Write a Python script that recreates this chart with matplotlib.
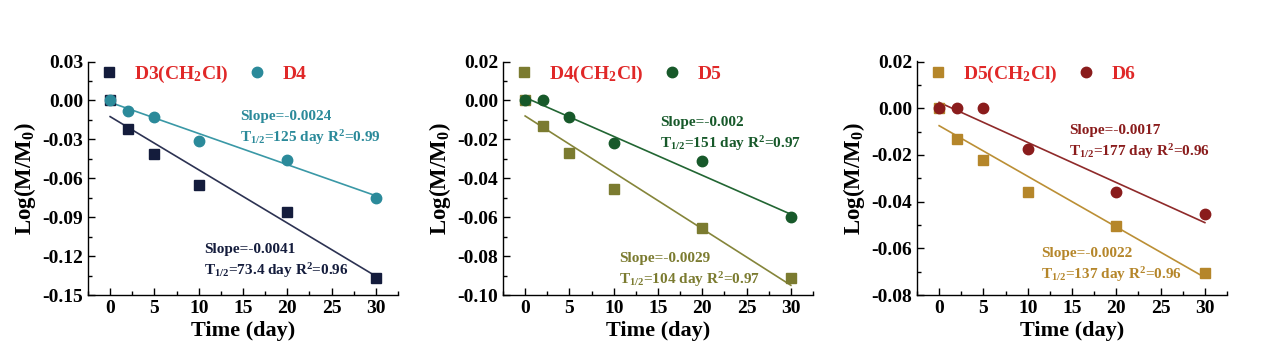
import matplotlib
matplotlib.use("Agg")
import matplotlib.pyplot as plt
from matplotlib.ticker import MultipleLocator, AutoMinorLocator, FuncFormatter

plt.rcParams['font.family'] = ['Liberation Serif', 'DejaVu Serif']
plt.rcParams['font.weight'] = 'bold'
plt.rcParams['mathtext.fontset'] = 'custom'
plt.rcParams['mathtext.rm'] = 'Liberation Serif:bold'
plt.rcParams['mathtext.bf'] = 'Liberation Serif:bold'
plt.rcParams['mathtext.default'] = 'rm'
plt.rcParams['axes.unicode_minus'] = False

# time points (day)
days = [0, 2, 5, 10, 20, 30]

# panel 1
d3cl = [0.0, -0.022, -0.041, -0.065, -0.086, -0.137]
d4 = [0.0, -0.0085, -0.013, -0.031, -0.046, -0.075]
# panel 2
d4cl = [0.0, -0.013, -0.027, -0.0455, -0.0655, -0.0915]
d5 = [0.0, 0.0, -0.0085, -0.022, -0.031, -0.060]
# panel 3
d5cl = [0.0, -0.013, -0.022, -0.036, -0.0505, -0.0705]
d6 = [0.0, 0.0, 0.0, -0.0175, -0.036, -0.0455]

# fitted line end points (y at day 0 and day 30)
fit_x = [0, 30]
fit_d3cl = [-0.0125, -0.1355]
fit_d4 = [-0.0015, -0.0735]
fit_d4cl = [-0.008, -0.095]
fit_d5 = [0.0015, -0.0585]
fit_d6 = [0.0025, -0.049]
fit_d5cl = [-0.0075, -0.0725]

panels = [
    dict(sq=d3cl, ci=d4, fsq=fit_d3cl, fci=fit_d4,
         sq_name="D3(CH$_2$Cl)", ci_name="D4",
         sq_col="#141c3c", ci_col="#2b8a9a", sq_line="#2c3252", ci_line="#3a98a6",
         ylim=(-0.15, 0.03), ystep=0.03,
         ci_txt=("Slope=-0.0024\nT$_{1/2}$=125 day R$^2$=0.99", 14.7, -0.0076),
         sq_txt=("Slope=-0.0041\nT$_{1/2}$=73.4 day R$^2$=0.96", 10.6, -0.1098),
         left=88),
    dict(sq=d4cl, ci=d5, fsq=fit_d4cl, fci=fit_d5,
         sq_name="D4(CH$_2$Cl)", ci_name="D5",
         sq_col="#7b7b30", ci_col="#17592a", sq_line="#85853a", ci_line="#226633",
         ylim=(-0.10, 0.02), ystep=0.02,
         ci_txt=("Slope=-0.002\nT$_{1/2}$=151 day R$^2$=0.97", 15.2, -0.0079),
         sq_txt=("Slope=-0.0029\nT$_{1/2}$=104 day R$^2$=0.97", 10.6, -0.078),
         left=503),
    dict(sq=d5cl, ci=d6, fsq=fit_d5cl, fci=fit_d6,
         sq_name="D5(CH$_2$Cl)", ci_name="D6",
         sq_col="#b5862a", ci_col="#8a1c1c", sq_line="#bb8f35", ci_line="#8f2a2a",
         ylim=(-0.08, 0.02), ystep=0.02,
         ci_txt=("Slope=-0.0017\nT$_{1/2}$=177 day R$^2$=0.96", 14.7, -0.0069),
         sq_txt=("Slope=-0.0022\nT$_{1/2}$=137 day R$^2$=0.96", 11.5, -0.0596),
         left=917),
]

W, H = 1268, 356
fig = plt.figure(figsize=(W / 100, H / 100), dpi=100)

# avoid "-0.00" labels from float noise
ytick_fmt = FuncFormatter(lambda v, pos: "%.2f" % (round(v, 2) + 0.0))

for p in panels:
    ax = fig.add_axes([p["left"] / W, 1 - 295 / H, 310 / W, 233.5 / H])
    ax.plot(days, p["sq"], ls="none", marker="s", ms=6.5, color=p["sq_col"],
            label=p["sq_name"], zorder=3)
    ax.plot(days, p["ci"], ls="none", marker="o", ms=7.5, color=p["ci_col"],
            label=p["ci_name"], zorder=3)
    ax.plot(fit_x, p["fsq"], color=p["sq_line"], lw=1.2, zorder=2)
    ax.plot(fit_x, p["fci"], color=p["ci_line"], lw=1.2, zorder=2)

    ax.set_xlim(-2.5, 32.5)
    ax.set_ylim(*p["ylim"])
    ax.xaxis.set_major_locator(MultipleLocator(5))
    ax.xaxis.set_minor_locator(AutoMinorLocator(2))
    ax.yaxis.set_major_locator(MultipleLocator(p["ystep"]))
    ax.yaxis.set_minor_locator(AutoMinorLocator(2))
    ax.yaxis.set_major_formatter(ytick_fmt)
    ax.tick_params(which="both", direction="in", labelsize=14, width=1)
    ax.tick_params(which="major", length=5)
    ax.tick_params(which="minor", length=3)
    for s in ["top", "right"]:
        ax.spines[s].set_visible(False)
    for s in ["left", "bottom"]:
        ax.spines[s].set_linewidth(1)
    for lab in ax.get_xticklabels() + ax.get_yticklabels():
        lab.set_fontweight("bold")

    ax.set_xlabel("Time (day)", fontsize=16, fontweight="bold", labelpad=3)
    ax.set_ylabel("Log(M/M$_0$)", fontsize=16.5, fontweight="bold", labelpad=3)

    txt, tx, ty = p["ci_txt"]
    ax.text(tx, ty, txt, color=p["ci_col"], fontsize=11, fontweight="bold",
            ha="left", va="top", linespacing=1.35)
    txt, tx, ty = p["sq_txt"]
    ax.text(tx, ty, txt, color=p["sq_col"], fontsize=11, fontweight="bold",
            ha="left", va="top", linespacing=1.35)

    leg = ax.legend(loc="upper left", bbox_to_anchor=(0.035, 0.99), ncol=2,
                    frameon=False, handlelength=1.0, handletextpad=0.8,
                    columnspacing=1.0, borderpad=0, borderaxespad=0,
                    prop=dict(size=14, weight="bold"))
    for t in leg.get_texts():
        t.set_color("#e02828")

fig.savefig("out.png", dpi=100)
